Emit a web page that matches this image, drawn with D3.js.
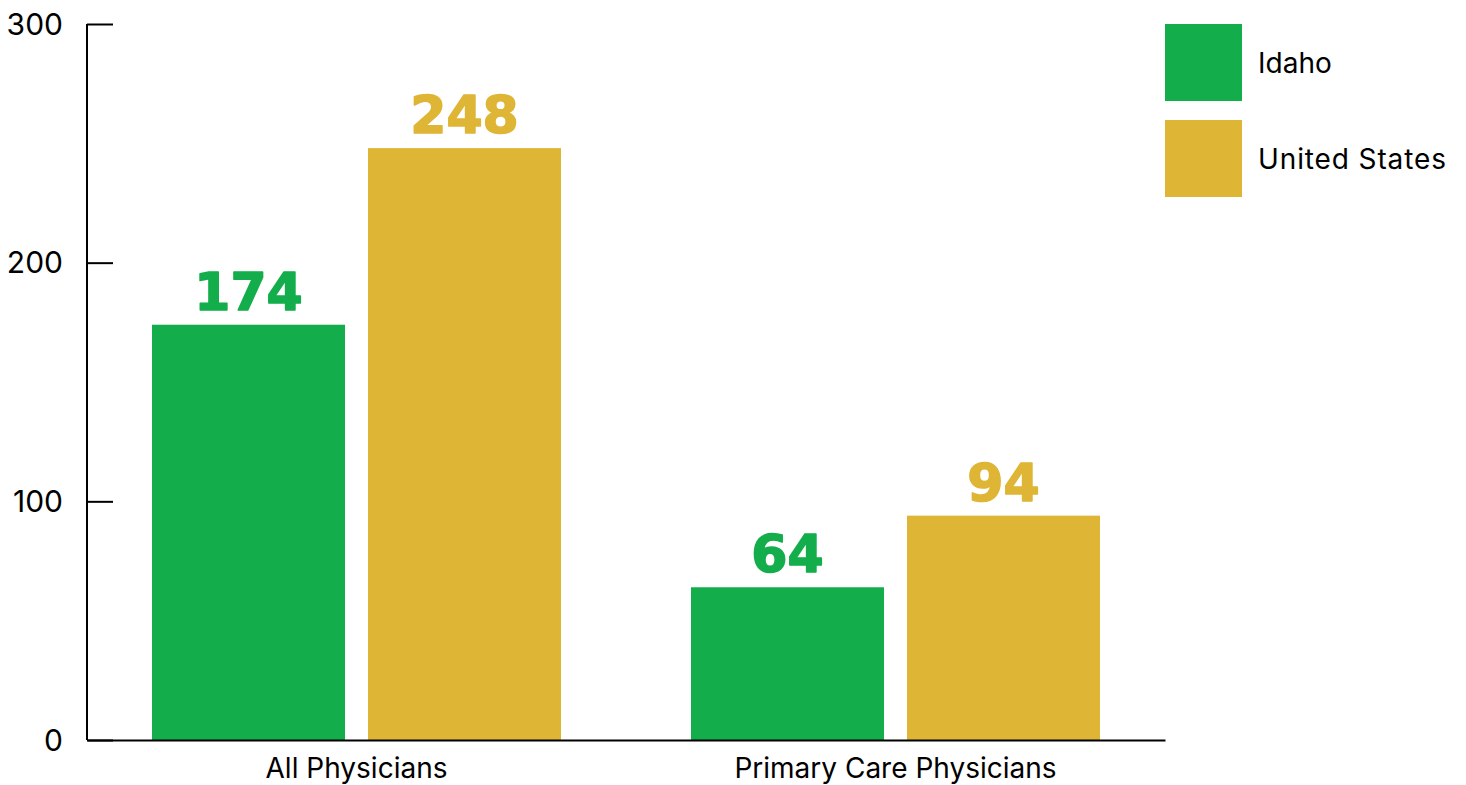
<!DOCTYPE html>
<html>
<head>
<meta charset="utf-8">
<script src="https://cdn.jsdelivr.net/npm/d3@7"></script>
<style>
  html, body { margin: 0; padding: 0; background: #fff; }
  svg { display: block; }
</style>
</head>
<body>
<svg id="chart" width="1466" height="785"></svg>
<script>
const categories = ["All Physicians", "Primary Care Physicians"];
const seriesNames = ["Idaho", "United States"];
const idahoValues = [174, 64];
const usValues = [248, 94];
const yTicks = [0, 100, 200, 300];
const colors = ["#13AE4B", "#DFB535"];

const svg = d3.select("#chart");
const margin = { left: 87, right: 301, top: 24, bottom: 45 };
const W = 1466, H = 785;
const x0 = d3.scaleBand().domain(categories).range([margin.left, W - margin.right]).paddingInner(0).paddingOuter(0);
const x1 = d3.scaleBand().domain(seriesNames).range([65, x0.bandwidth() - 65]).paddingInner(0.1065).paddingOuter(0);
const y = d3.scaleLinear().domain([0, 300]).range([H - margin.bottom, margin.top]);
const color = d3.scaleOrdinal().domain(seriesNames).range(colors);

const data = categories.map((c, i) => ({
  category: c,
  values: [
    { name: seriesNames[0], value: idahoValues[i] },
    { name: seriesNames[1], value: usValues[i] }
  ]
}));

// bars
const groups = svg.append("g").selectAll("g").data(data).join("g")
  .attr("transform", d => `translate(${x0(d.category)},0)`);
groups.selectAll("rect").data(d => d.values).join("rect")
  .attr("x", d => x1(d.name))
  .attr("width", x1.bandwidth())
  .attr("y", d => y(d.value))
  .attr("height", d => y(0) - y(d.value))
  .attr("fill", d => color(d.name));
groups.selectAll("text").data(d => d.values).join("text")
  .attr("x", d => x1(d.name) + x1.bandwidth() / 2)
  .attr("y", d => y(d.value) - 15)
  .attr("text-anchor", "middle")
  .attr("font-family", "'DejaVu Sans', sans-serif")
  .attr("font-weight", "bold")
  .attr("font-size", 52)
  .attr("fill", d => color(d.name))
  .attr("stroke", d => color(d.name))
  .attr("stroke-width", 1.6)
  .attr("stroke-linejoin", "round")
  .text(d => d.value);

// y axis
const yAxis = d3.axisRight(y).tickValues(yTicks).tickSize(26).tickFormat("");
const gy = svg.append("g").attr("transform", `translate(${margin.left},0)`).call(yAxis);
gy.select(".domain").attr("stroke", "#000").attr("stroke-width", 2).attr("d", `M0,${y(300)}V${y(0)}`);
gy.selectAll(".tick line").attr("stroke", "#000").attr("stroke-width", 2);
svg.append("g").selectAll("text").data(yTicks).join("text")
  .attr("x", 63)
  .attr("y", d => y(d))
  .attr("dy", "0.36em")
  .attr("text-anchor", "end")
  .attr("font-family", "Inter, sans-serif")
  .attr("font-size", 30)
  .attr("fill", "#000")
  .text(d => d);

// x axis
const xAxis = d3.axisBottom(x0).tickSize(0).tickPadding(18);
const gx = svg.append("g").attr("transform", `translate(0,${y(0)})`).call(xAxis);
gx.select(".domain").attr("stroke", "#000").attr("stroke-width", 2);
gx.selectAll(".tick text")
  .attr("font-family", "Inter, sans-serif")
  .attr("font-size", 28)
  .attr("fill", "#000");

// legend
const legend = svg.append("g").selectAll("g").data(seriesNames).join("g")
  .attr("transform", (d, i) => `translate(1165,${24 + i * 96})`);
legend.append("rect").attr("width", 77).attr("height", 77).attr("fill", d => color(d));
legend.append("text")
  .attr("x", 93).attr("y", 39).attr("dy", "0.36em")
  .attr("font-family", "Inter, sans-serif")
  .attr("font-size", 28)
  .attr("fill", "#000")
  .text(d => d)
  .attr("textLength", d => d === "United States" ? 188 : null);
</script>
</body>
</html>
